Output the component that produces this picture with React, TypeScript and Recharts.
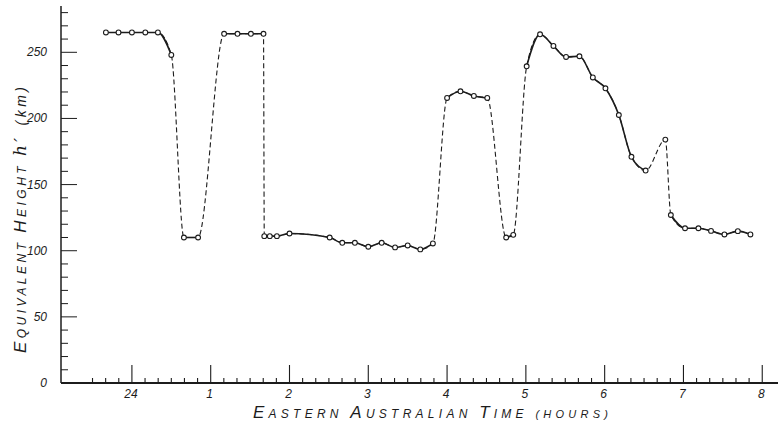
import React from 'react';
import { LineChart, Line, XAxis, YAxis } from 'recharts';

// time in hours after midnight (24 = 0), equivalent height h' in km
const nightHigh = [[-0.33, 265], [-0.17, 265], [0, 265], [0.17, 265], [0.33, 265], [0.5, 248]];
const firstDip = [[0.66, 110], [0.84, 110]];
const secondHigh = [[1.17, 264], [1.34, 264], [1.51, 264], [1.67, 264]];
const longLow = [[1.68, 111], [1.75, 111], [1.84, 111], [2.0, 113], [2.51, 110], [2.67, 106], [2.83, 106], [3.0, 103], [3.17, 106], [3.34, 102.5], [3.5, 104], [3.66, 101], [3.82, 105.5]];
const midHigh = [[4.0, 215.5], [4.17, 220.5], [4.34, 217], [4.51, 215.5]];
const secondDip = [[4.75, 110], [4.84, 112]];
const dawnArc = [[5.01, 239.4], [5.18, 263.6], [5.35, 254.8], [5.51, 246.5], [5.68, 247], [5.85, 231], [6.01, 222.8], [6.18, 202.6], [6.34, 171], [6.52, 160.6]];
const spike = [[6.77, 184]];
const morningLow = [[6.84, 127], [7.02, 117], [7.19, 117], [7.35, 115], [7.52, 112.3], [7.69, 114.8], [7.85, 112.3]];

const solidSegments = [nightHigh, firstDip, secondHigh, longLow, midHigh, secondDip, dawnArc, morningLow];
const allSegments = [nightHigh, firstDip, secondHigh, longLow, midHigh, secondDip, dawnArc, spike, morningLow];

const hourLabels = ['24', '1', '2', '3', '4', '5', '6', '7', '8'];
const xTicks = Array.from({ length: 52 }, (_, i) => (i - 3) / 6);
const yTicks = Array.from({ length: 29 }, (_, i) => i * 10);

const X_MIN = -0.9;
const X_MAX = 8.2;
const Y_MAX = 285;

const toPts = (seg: number[][]) => seg.map(([t, h]) => ({ t, h }));
const allPoints = allSegments.flat().map(([t, h]) => ({ t, h }));

// anchor points for tick marks, placed through the chart scales
const xTickAnchors = xTicks.map((t) => ({ t, h: 0, major: Math.round(t * 6) % 6 === 0 }));
const yTickAnchors = yTicks.map((v) => ({ t: X_MIN, h: v, major: v % 50 === 0 }));

const INK = '#1c1c1c';
const FONT = '"Liberation Sans", "DejaVu Sans", sans-serif';

const XMark = (props: any) => {
  const { cx, cy, payload } = props;
  if (cx == null || cy == null) return <g />;
  const len = payload && payload.major ? 18 : 5;
  return <path d={`M${cx},${cy}L${cx},${cy - len}`} stroke={INK} strokeWidth={1.1} fill="none" />;
};

const YMark = (props: any) => {
  const { cx, cy, payload } = props;
  if (cx == null || cy == null) return <g />;
  const len = payload && payload.major ? 16 : 7;
  return <path d={`M${cx},${cy}L${cx + len},${cy}`} stroke={INK} strokeWidth={1} fill="none" />;
};

const XTick = (props: any) => {
  const { x, y, payload } = props;
  const idx = Math.round(payload.value * 6);
  if (idx % 6 !== 0 || idx < 0) return <g />;
  return (
    <text x={x - 1} y={y + 15} textAnchor="middle" fontStyle="italic" fontSize={12} fontFamily={FONT} fill={INK}>
      {hourLabels[idx / 6]}
    </text>
  );
};

const YTick = (props: any) => {
  const { x, y, payload } = props;
  const v = Math.round(payload.value);
  if (v % 50 !== 0) return <g />;
  return (
    <text x={x - 14} y={y + 4} textAnchor="end" fontStyle="italic" fontSize={12} fontFamily={FONT} fill={INK}>
      {v}
    </text>
  );
};

const XTitle = (props: any) => {
  const vb = props.viewBox || { x: 61, y: 383 };
  return (
    <text x={vb.x + 192} y={vb.y + 35} textLength={355} lengthAdjust="spacing" fontStyle="italic" fontFamily={FONT} fill={INK}>
      <tspan fontSize={17}>E</tspan>
      <tspan fontSize={12}>ASTERN </tspan>
      <tspan fontSize={17}>A</tspan>
      <tspan fontSize={12}>USTRALIAN </tspan>
      <tspan fontSize={17}>T</tspan>
      <tspan fontSize={12}>IME    </tspan>
      <tspan fontSize={11}>(HOURS)</tspan>
    </text>
  );
};

const YTitle = (props: any) => {
  const vb = props.viewBox || { x: 0, y: 6, height: 377 };
  return (
    <text
      x={0}
      y={0}
      transform={`translate(${vb.x + 26},${vb.y + vb.height - 30}) rotate(-90)`}
      textLength={266}
      lengthAdjust="spacing"
      fontStyle="italic"
      fontFamily={FONT}
      fill={INK}
    >
      <tspan fontSize={17}>E</tspan>
      <tspan fontSize={12}>QUIVALENT </tspan>
      <tspan fontSize={17}>H</tspan>
      <tspan fontSize={12}>EIGHT  </tspan>
      <tspan fontSize={17} fontFamily="'DejaVu Serif', serif">h′ </tspan>
      <tspan fontSize={14}>(km)</tspan>
    </text>
  );
};

export default function App() {
  return (
    <div style={{ position: 'absolute', left: 0, top: 0, width: 784, height: 425, background: '#fff' }}>
      <LineChart width={784} height={425} margin={{ top: 6, right: 6, bottom: 0, left: 0 }}>
        <XAxis
          type="number"
          dataKey="t"
          domain={[X_MIN, X_MAX]}
          ticks={xTicks}
          interval={0}
          allowDataOverflow
          height={42}
          tickSize={0}
          tickMargin={0}
          tick={<XTick />}
          tickLine={false}
          axisLine={{ stroke: INK, strokeWidth: 2 }}
          label={{ content: <XTitle /> }}
        />
        <YAxis
          type="number"
          dataKey="h"
          domain={[0, Y_MAX]}
          ticks={yTicks}
          interval={0}
          allowDataOverflow
          width={61}
          tickSize={0}
          tickMargin={0}
          tick={<YTick />}
          tickLine={false}
          axisLine={{ stroke: INK, strokeWidth: 1.5 }}
          label={{ content: <YTitle /> }}
        />
        <Line
          data={xTickAnchors}
          dataKey="h"
          stroke="none"
          dot={<XMark />}
          isAnimationActive={false}
        />
        <Line
          data={yTickAnchors}
          dataKey="h"
          stroke="none"
          dot={<YMark />}
          isAnimationActive={false}
        />
        <Line
          data={allPoints}
          dataKey="h"
          type="monotone"
          stroke={INK}
          strokeWidth={1.1}
          strokeDasharray="5 3"
          dot={false}
          isAnimationActive={false}
        />
        {solidSegments.map((seg, i) => (
          <Line
            key={i}
            data={toPts(seg)}
            dataKey="h"
            type="monotone"
            stroke={INK}
            strokeWidth={1.6}
            dot={false}
            isAnimationActive={false}
          />
        ))}
        <Line
          data={allPoints}
          dataKey="h"
          stroke="none"
          dot={{ r: 2.4, stroke: INK, strokeWidth: 1.1, fill: '#fff' }}
          isAnimationActive={false}
        />
      </LineChart>
    </div>
  );
}
